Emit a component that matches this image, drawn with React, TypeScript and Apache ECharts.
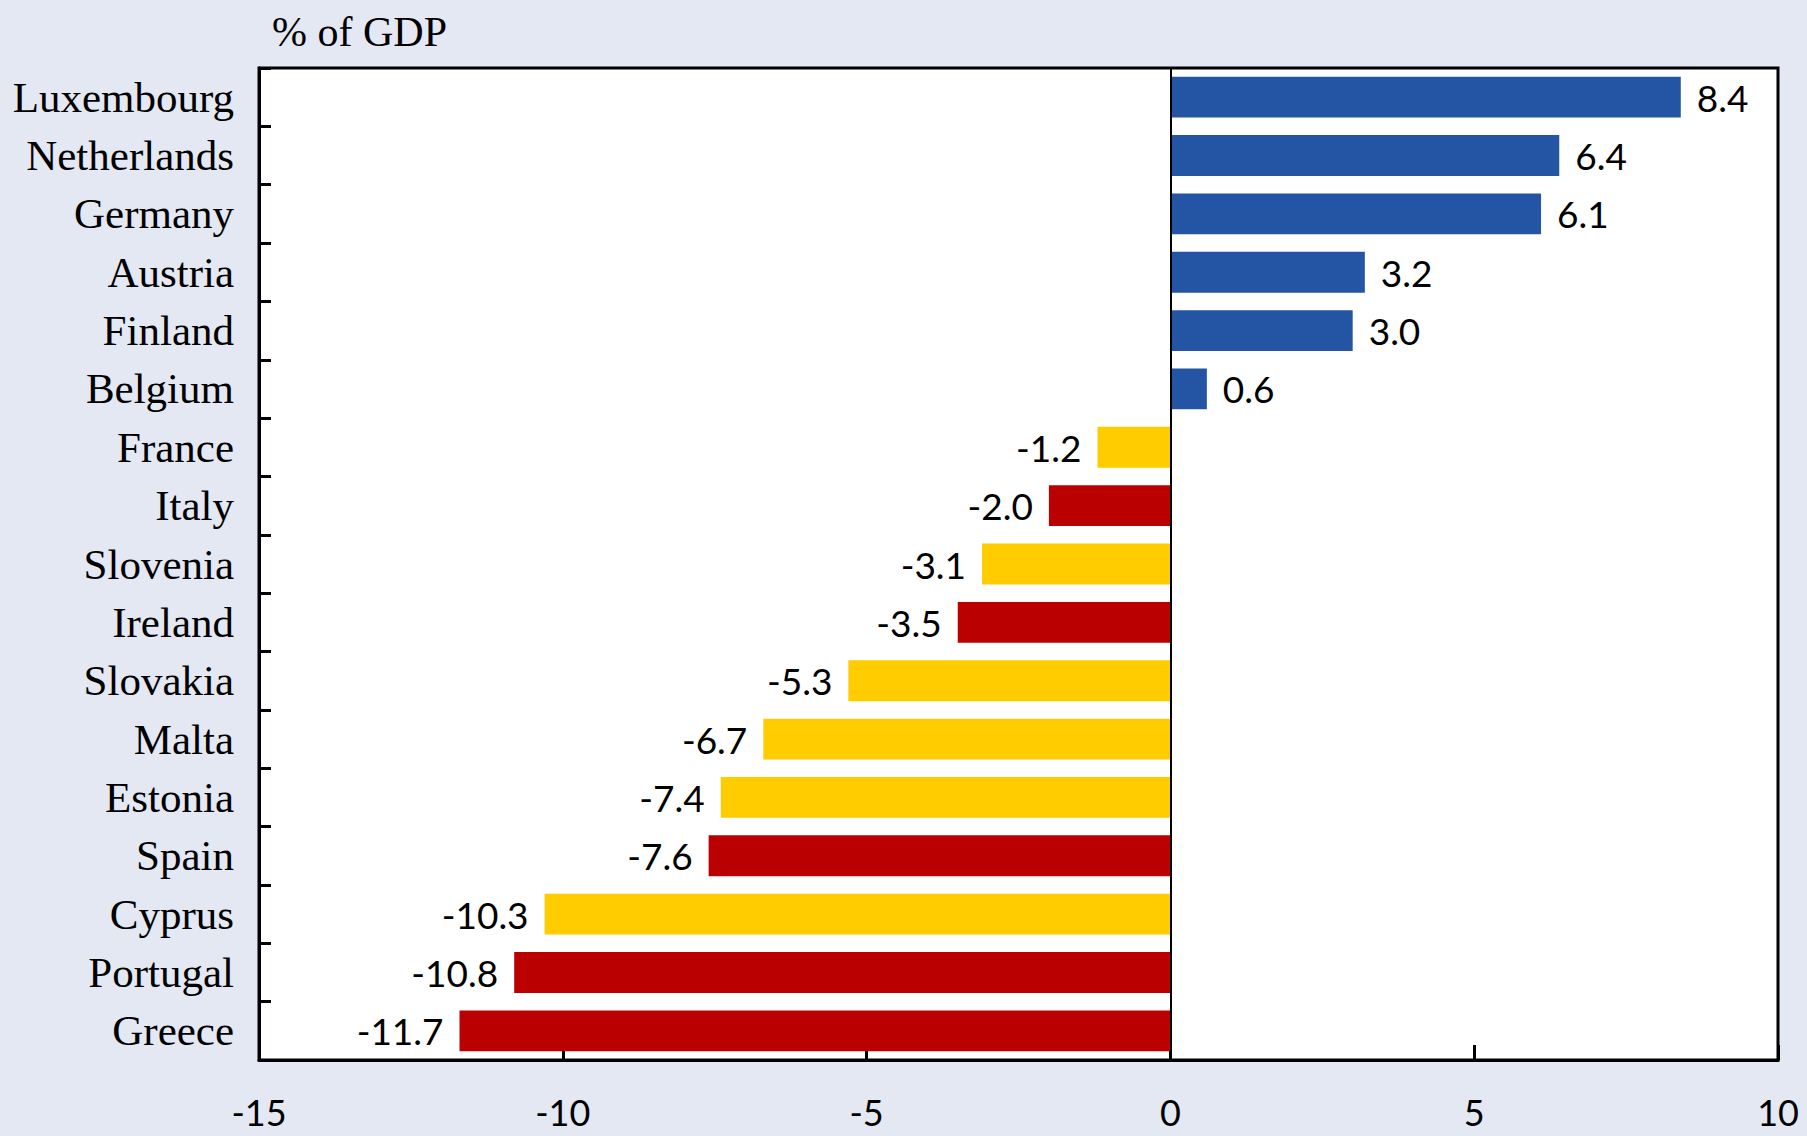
import React, { useEffect, useRef } from "react";
import * as echarts from "echarts";

const countries = [
  "Luxembourg", "Netherlands", "Germany", "Austria", "Finland", "Belgium",
  "France", "Italy", "Slovenia", "Ireland", "Slovakia", "Malta",
  "Estonia", "Spain", "Cyprus", "Portugal", "Greece",
];
const values = [8.4, 6.4, 6.1, 3.2, 3.0, 0.6, -1.2, -2.0, -3.1, -3.5, -5.3, -6.7, -7.4, -7.6, -10.3, -10.8, -11.7];
// group: b = surplus (blue), y = yellow, r = red
const groups = ["b", "b", "b", "b", "b", "b", "y", "r", "y", "r", "y", "y", "y", "r", "y", "r", "r"];
const xTicks = [-15, -10, -5, 0, 5, 10];

const COLORS: Record<string, string> = { b: "#2455A4", y: "#FFCC00", r: "#BA0000" };

export default function App() {
  const ref = useRef<HTMLDivElement>(null);
  useEffect(() => {
    document.body.style.margin = "0";
    const chart = echarts.init(ref.current!, null, { renderer: "svg" });
    const data = values.map((v, i) => ({
      value: v,
      itemStyle: { color: COLORS[groups[i]] },
      label: { position: v >= 0 ? "right" : "left" },
    }));
    chart.setOption({
      animation: false,
      backgroundColor: "#E3E8F3",
      grid: {
        left: 259, right: 29, top: 68, bottom: 76,
        show: true, backgroundColor: "#FFFFFF", borderColor: "#000", borderWidth: 3,
      },
      graphic: [
        {
          type: "text", left: 272, top: 11,
          style: { text: "% of GDP", font: "42px 'Liberation Serif'", fill: "#000" },
        },
      ],
      xAxis: {
        type: "value",
        min: xTicks[0], max: xTicks[xTicks.length - 1], interval: 5,
        splitLine: { show: false },
        axisLine: { show: true, lineStyle: { color: "#000", width: 3 } },
        axisTick: { show: true, inside: true, length: 15, lineStyle: { color: "#000", width: 3 } },
        axisLabel: { margin: 33, fontFamily: "Lato", fontSize: 36, lineHeight: 38, color: "#000" },
      },
      yAxis: {
        type: "category",
        data: countries,
        inverse: true,
        axisLine: { show: true, onZero: false, lineStyle: { color: "#000", width: 3 } },
        axisTick: { show: true, inside: true, length: 12, lineStyle: { color: "#000", width: 3 } },
        axisLabel: { margin: 25, fontFamily: "Liberation Serif", fontSize: 43, color: "#000" },
      },
      series: [
        {
          type: "bar",
          data,
          barCategoryGap: "30%",
          label: {
            show: true, distance: 16, fontFamily: "Lato", fontSize: 37, color: "#000",
            formatter: (p: any) => Number(p.value).toFixed(1),
          },
          markLine: {
            silent: true, symbol: "none", label: { show: false },
            lineStyle: { color: "#000", width: 2, type: "solid" },
            data: [{ xAxis: 0 }],
          },
        },
      ],
    });
    return () => chart.dispose();
  }, []);
  return <div ref={ref} style={{ position: "absolute", left: 0, top: 0, width: 1807, height: 1136 }} />;
}
